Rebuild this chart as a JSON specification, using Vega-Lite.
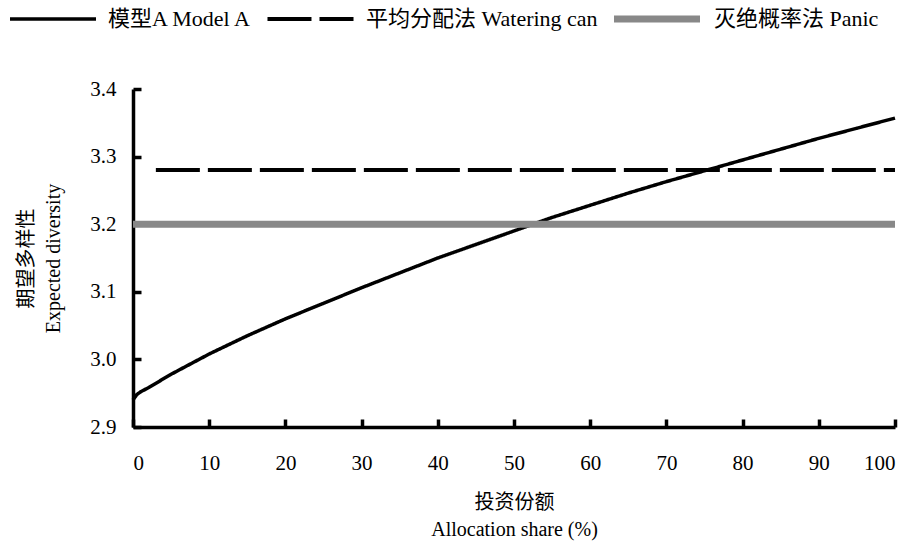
{
  "$schema": "https://vega.github.io/schema/vega-lite/v6.json",
  "autosize": "none",
  "width": 762,
  "height": 338,
  "padding": {"left": 133, "top": 89, "right": 19, "bottom": 117},
  "background": "white",
  "config": {
    "view": {"stroke": null},
    "font": "Liberation Serif, Noto Sans CJK SC, serif",
    "axis": {
      "grid": false,
      "domainColor": "black",
      "domainWidth": 3.5,
      "tickColor": "black",
      "tickWidth": 3.5,
      "tickSize": -8,
      "labelFont": "Liberation Serif, serif",
      "labelFontSize": 21,
      "labelColor": "black",
      "titleFont": "Liberation Serif, Noto Sans CJK SC, serif",
      "titleFontSize": 20,
      "titleFontWeight": "normal",
      "titleColor": "black"
    }
  },
  "data": {
    "values": [
      {"series": "A", "x": 0, "y": 2.940},
      {"series": "A", "x": 0.5, "y": 2.948},
      {"series": "A", "x": 1, "y": 2.952},
      {"series": "A", "x": 2, "y": 2.958},
      {"series": "A", "x": 5, "y": 2.978},
      {"series": "A", "x": 10, "y": 3.008},
      {"series": "A", "x": 15, "y": 3.035},
      {"series": "A", "x": 20, "y": 3.060},
      {"series": "A", "x": 25, "y": 3.083},
      {"series": "A", "x": 30, "y": 3.106},
      {"series": "A", "x": 35, "y": 3.128},
      {"series": "A", "x": 40, "y": 3.150},
      {"series": "A", "x": 45, "y": 3.170},
      {"series": "A", "x": 50, "y": 3.190},
      {"series": "A", "x": 55, "y": 3.210},
      {"series": "A", "x": 60, "y": 3.228},
      {"series": "A", "x": 65, "y": 3.246},
      {"series": "A", "x": 70, "y": 3.263},
      {"series": "A", "x": 75, "y": 3.279},
      {"series": "A", "x": 80, "y": 3.295},
      {"series": "A", "x": 85, "y": 3.311},
      {"series": "A", "x": 90, "y": 3.327},
      {"series": "A", "x": 95, "y": 3.342},
      {"series": "A", "x": 100, "y": 3.357},
      {"series": "W", "x": 3, "y": 3.28},
      {"series": "W", "x": 100, "y": 3.28},
      {"series": "P", "x": 0, "y": 3.2},
      {"series": "P", "x": 100, "y": 3.2}
    ]
  },
  "mark": {"type": "line", "strokeCap": "butt"},
  "encoding": {
    "x": {
      "field": "x", "type": "quantitative",
      "scale": {"domain": [0, 100], "nice": false, "zero": false},
      "axis": {"values": [0,10,20,30,40,50,60,70,80,90,100], "labelPadding": 33, "title": ["投资份额", "Allocation share (%)"], "titlePadding": 19, "titleLineHeight": 27}
    },
    "y": {
      "field": "y", "type": "quantitative",
      "scale": {"domain": [2.9, 3.4], "nice": false, "zero": false},
      "axis": {"values": [2.9,3.0,3.1,3.2,3.3,3.4], "format": ".1f", "labelPadding": 25, "title": ["期望多样性", "Expected diversity"], "titlePadding": 26, "titleLineHeight": 27}
    },
    "color": {
      "field": "series", "type": "nominal",
      "scale": {"domain": ["A", "W", "P"], "range": ["black", "black", "#888888"]},
      "legend": {
        "orient": "none", "legendX": -125, "legendY": -82, "direction": "horizontal",
        "title": null, "symbolType": "stroke", "symbolSize": 7400, "clipHeight": 24,
        "labelFontSize": 22, "labelFont": "Liberation Serif, Noto Sans CJK SC, serif", "labelColor": "black",
        "labelOffset": 10, "columnPadding": 12, "labelLimit": 400,
        "labelExpr": "datum.value === 'A' ? '模型A Model A' : datum.value === 'W' ? '平均分配法 Watering can' : '灭绝概率法 Panic'",
        "encode": {"symbols": {"update": {"strokeDash": {"signal": "datum.value === 'W' ? [34, 23, 13, 100] : [1, 0]"}}}}
      }
    },
    "strokeDash": {
      "field": "series", "type": "nominal",
      "scale": {"domain": ["A", "W", "P"], "range": [[1, 0], [44, 8], [1, 0]]},
      "legend": null
    },
    "strokeWidth": {
      "field": "series", "type": "nominal",
      "scale": {"type": "ordinal", "domain": ["A", "W", "P"], "range": [3.5, 4, 7]},
      "legend": null
    }
  }
}
